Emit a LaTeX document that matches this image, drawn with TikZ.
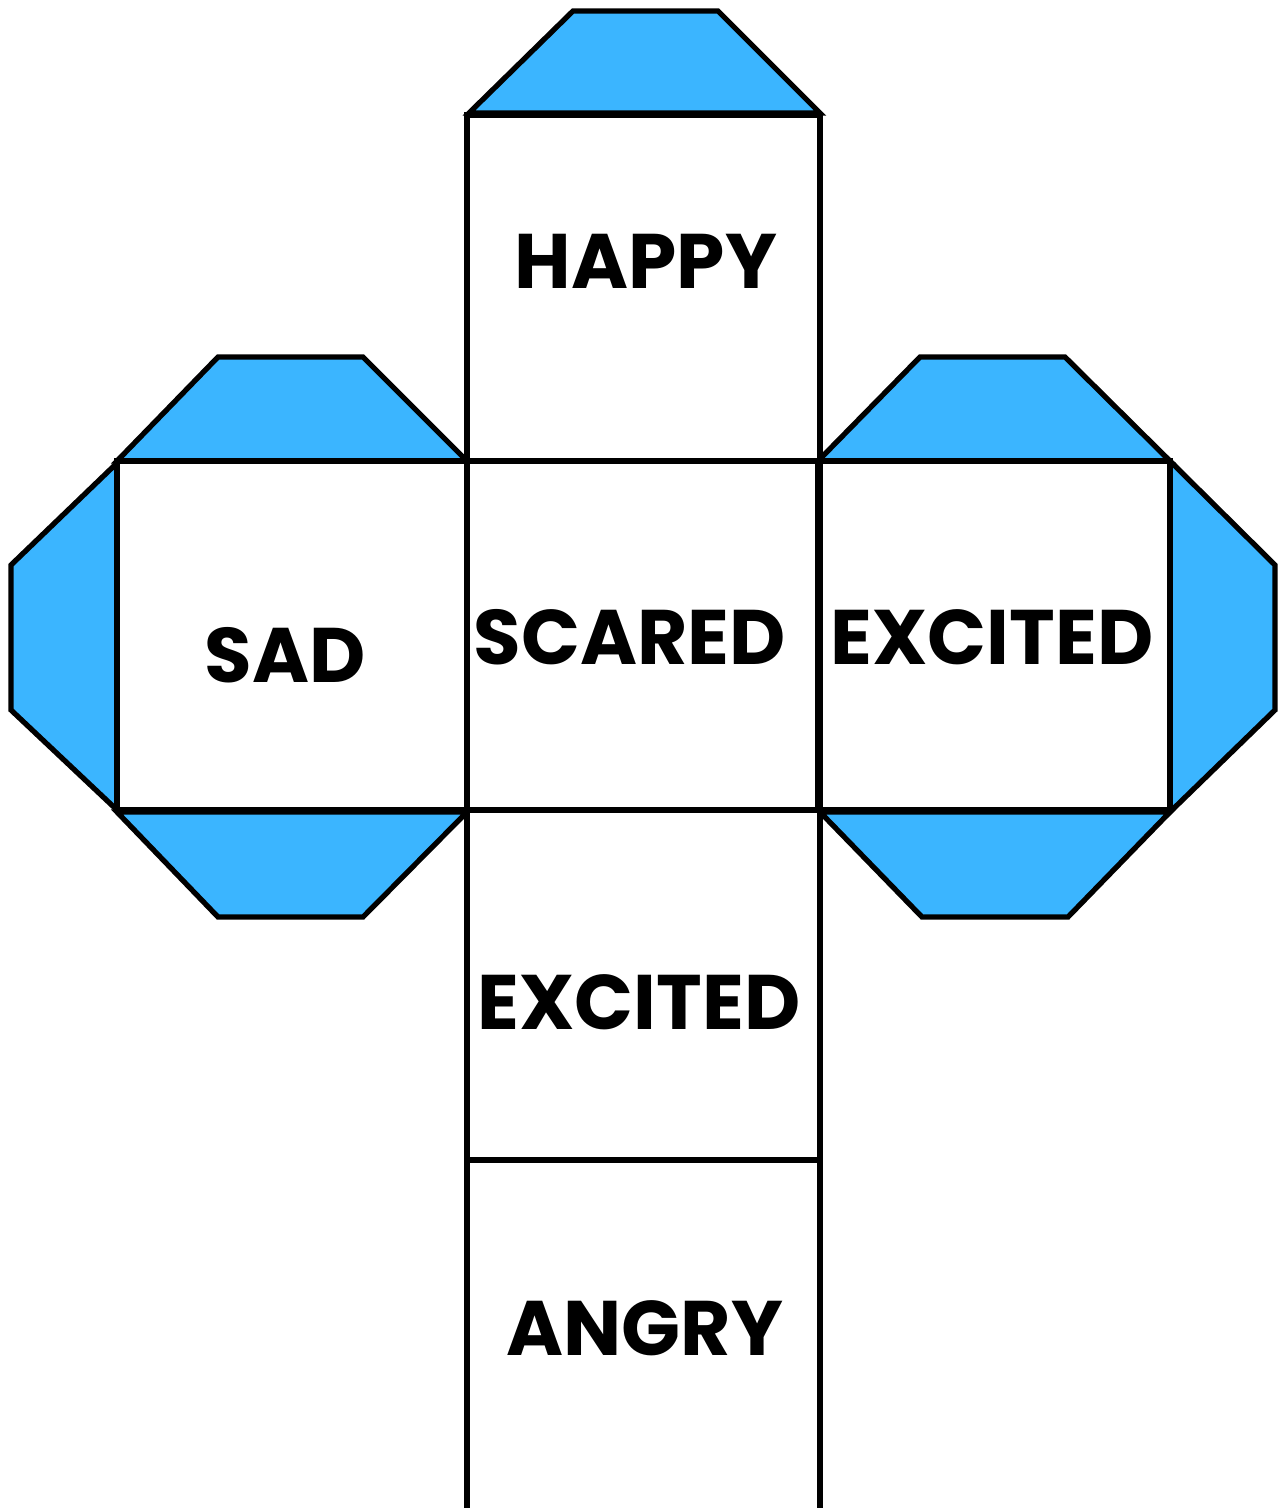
\documentclass[tikz,border=0pt]{standalone}
\usepackage{fontspec}
\setmainfont{Poppins}
\usepackage{xcolor}
\usepackage{tikz}
\usetikzlibrary{positioning}

\definecolor{flapblue}{HTML}{3BB5FF}

\begin{document}
\begin{tikzpicture}[
    x=0.01cm, y=-0.01cm,
    face line/.style={black, line width=1.5pt, line join=miter},
    flap/.style={face line, fill=flapblue},
    face label/.style={font=\fontsize{22}{27}\selectfont\bfseries, inner sep=0pt}
]

\useasboundingbox (0,0) rectangle (1279,1508);

% --- 1. Glue flaps ---
\draw[flap] (469,113) -- (573,11) -- (718,11) -- (820,113) -- cycle;

% left face flaps
\draw[flap] (117,461) -- (218,357) -- (363,357) -- (467,461) -- cycle;
\draw[flap] (117,812) -- (218,917) -- (363,917) -- (467,812) -- cycle;
\draw[flap] (117,463) -- (11,565) -- (11,710) -- (117,810) -- cycle;

% right face flaps
\draw[flap] (818,461) -- (920,357) -- (1065,357) -- (1170,461) -- cycle;
\draw[flap] (820,812) -- (922,917) -- (1068,917) -- (1170,812) -- cycle;
\draw[flap] (1170,461) -- (1275,565) -- (1275,710) -- (1170,812) -- cycle;

% --- 2. Faces ---
\draw[face line] (467,1512) -- (467,115) -- (820,115) -- (820,1512);
\draw[face line] (467,461) -- (820,461);
\draw[face line] (467,810) -- (820,810);
\draw[face line] (467,1160) -- (820,1160);

\draw[face line] (117,461) rectangle (467,810);
\draw[face line] (818,461) rectangle (1170,810);

% --- 3. Labels ---
\node[face label] (happy)    at (646,261)  {HAPPY};
\node[face label] (sad)      at (285,655)  {SAD};
\node[face label] (scared)   at (630,637)  {SCARED};
\node[face label] (excitedR) at (992,637)  {EXCITED};
\node[face label] (excitedB) at (639,1002) {EXCITED};
\node[face label] (angry)    at (645,1328) {ANGRY};

\end{tikzpicture}
\end{document}
